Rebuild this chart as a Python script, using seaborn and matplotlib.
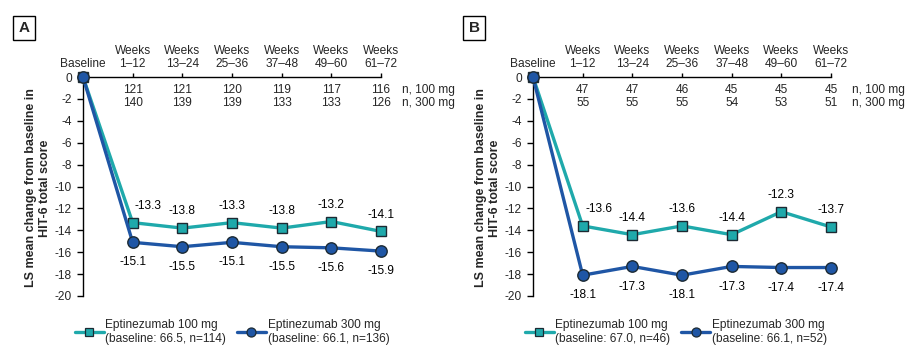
import matplotlib
matplotlib.use("Agg")
import matplotlib.pyplot as plt
import seaborn as sns
import pandas as pd
from matplotlib.lines import Line2D

sns.set_theme(style="white")
plt.rcParams['font.family'] = ['Liberation Sans', 'DejaVu Sans']
plt.rcParams['axes.unicode_minus'] = False

timepoints = ["Baseline", "Weeks\n1\u201312", "Weeks\n13\u201324", "Weeks\n25\u201336",
              "Weeks\n37\u201348", "Weeks\n49\u201360", "Weeks\n61\u201372"]

a_100 = [0, -13.3, -13.8, -13.3, -13.8, -13.2, -14.1]
a_300 = [0, -15.1, -15.5, -15.1, -15.5, -15.6, -15.9]
a_n100 = [121, 121, 120, 119, 117, 116]
a_n300 = [140, 139, 139, 133, 133, 126]
a_leg100 = "Eptinezumab 100 mg\n(baseline: 66.5, n=114)"
a_leg300 = "Eptinezumab 300 mg\n(baseline: 66.1, n=136)"

b_100 = [0, -13.6, -14.4, -13.6, -14.4, -12.3, -13.7]
b_300 = [0, -18.1, -17.3, -18.1, -17.3, -17.4, -17.4]
b_n100 = [47, 47, 46, 45, 45, 45]
b_n300 = [55, 55, 55, 54, 53, 51]
b_leg100 = "Eptinezumab 100 mg\n(baseline: 67.0, n=46)"
b_leg300 = "Eptinezumab 300 mg\n(baseline: 66.1, n=52)"

TEAL = "#1fa9ab"
BLUE = "#1f56a5"
EDGE = "#1c2a33"
FS = 8.6

W, H = 905, 348
fig = plt.figure(figsize=(W / 100, H / 100), dpi=100)


def panel(left_px, letter, v100, v300, n100, n300, leg100, leg300, first_shift):
    right_px = left_px + 298
    top_px, bot_px = 77, 296
    ax = fig.add_axes([left_px / W, 1 - bot_px / H, (right_px - left_px) / W, (bot_px - top_px) / H])
    x = list(range(len(timepoints)))
    df = pd.DataFrame({"x": x * 2, "y": v100 + v300,
                       "grp": ["100"] * len(x) + ["300"] * len(x)})
    sns.lineplot(data=df[df.grp == "100"], x="x", y="y", color=TEAL, lw=2.4,
                 marker="s", markersize=7.6, markeredgecolor=EDGE, markeredgewidth=1.0,
                 markerfacecolor=TEAL, ax=ax, clip_on=False, zorder=3)
    sns.lineplot(data=df[df.grp == "300"], x="x", y="y", color=BLUE, lw=2.4,
                 marker="o", markersize=8.2, markeredgecolor=EDGE, markeredgewidth=1.0,
                 markerfacecolor=BLUE, ax=ax, clip_on=False, zorder=4)
    ax.set_xlim(0, 6)
    ax.set_ylim(-20, 0)
    ax.set_xlabel("")
    ax.set_ylabel("")
    ax.xaxis.tick_top()
    ax.set_xticks(x)
    ax.set_xticklabels(timepoints, fontsize=FS, linespacing=1.1)
    ax.set_yticks(range(-20, 1, 2))
    ax.set_yticklabels([str(v) for v in range(-20, 1, 2)], fontsize=FS)
    ax.tick_params(axis="x", which="both", top=True, bottom=False, direction="out",
                   length=3, width=1, color="black", pad=2)
    ax.tick_params(axis="y", left=True, direction="out", length=4, width=1,
                   color="black", pad=4)
    for s in ["right", "bottom"]:
        ax.spines[s].set_visible(False)
    for s in ["left", "top"]:
        ax.spines[s].set_color("black")
        ax.spines[s].set_linewidth(1.0)
    # value labels
    for i in range(1, 7):
        dx = first_shift if i == 1 else 0
        ax.annotate(f"{v100[i]:.1f}", (i, v100[i]), xytext=(dx, 12), textcoords="offset points",
                    ha="center", va="center", fontsize=FS, color="black")
        ax.annotate(f"{v300[i]:.1f}", (i, v300[i]), xytext=(0, -14.5), textcoords="offset points",
                    ha="center", va="center", fontsize=FS, color="black")
    # n counts
    for i in range(6):
        ax.text(i + 1, -1.2, str(n100[i]), ha="center", va="center", fontsize=FS)
        ax.text(i + 1, -2.4, str(n300[i]), ha="center", va="center", fontsize=FS)
    ax.text(6.42, -1.2, "n, 100 mg", ha="left", va="center", fontsize=FS, clip_on=False)
    ax.text(6.42, -2.4, "n, 300 mg", ha="left", va="center", fontsize=FS, clip_on=False)
    # y label
    fig.text((left_px - 45) / W, 1 - 188 / H, "LS mean change from baseline in\nHIT-6 total score",
             rotation=90, ha="center", va="center", fontsize=9, fontweight="bold",
             linespacing=1.25)
    # panel letter
    fig.text((left_px - 59) / W, 1 - 28 / H, letter, ha="center", va="center",
             fontsize=11, fontweight="bold",
             bbox=dict(boxstyle="square,pad=0.35", fc="white", ec="black", lw=1.0))
    # legend
    h1 = Line2D([], [], color=TEAL, lw=2.4, marker="s", markersize=6,
                markerfacecolor=TEAL, markeredgecolor=EDGE, markeredgewidth=0.9)
    h2 = Line2D([], [], color=BLUE, lw=2.4, marker="o", markersize=6.5,
                markerfacecolor=BLUE, markeredgecolor=EDGE, markeredgewidth=0.9)
    ax.legend([h1, h2], [leg100, leg300], ncol=2, frameon=False, fontsize=FS,
              loc="upper left", bbox_to_anchor=(-8 / 298, -0.106),
              handlelength=2.4, handletextpad=0.15, columnspacing=0.9,
              borderaxespad=0, borderpad=0, labelspacing=0.2)
    return ax


panel(83, "A", a_100, a_300, a_n100, a_n300, a_leg100, a_leg300, 11)
panel(533, "B", b_100, b_300, b_n100, b_n300, b_leg100, b_leg300, 12)

fig.savefig("out.png", dpi=100)
